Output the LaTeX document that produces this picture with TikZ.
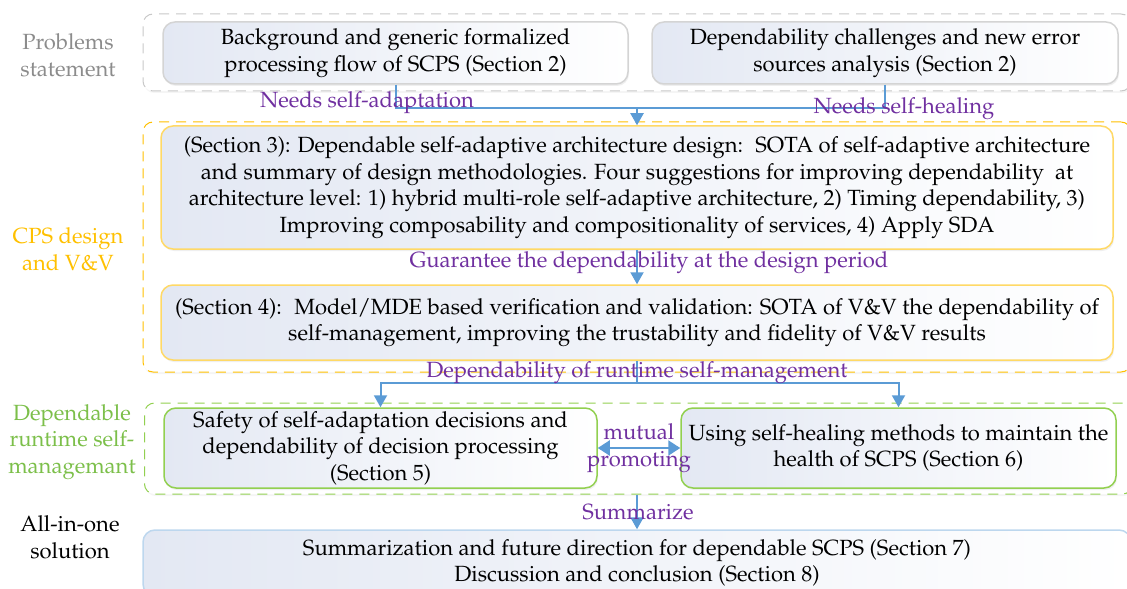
\documentclass[tikz,border=0pt]{standalone}
\usepackage[T1]{fontenc}
\usepackage{mathpazo}
\usetikzlibrary{arrows.meta,shadows}
\definecolor{arrowblue}{HTML}{5B9BD5}
\definecolor{labpurple}{HTML}{7030A0}
\definecolor{grporange}{HTML}{FFC000}
\definecolor{boxorange}{HTML}{FFD966}
\definecolor{grpgreen}{HTML}{92D050}
\definecolor{labgreen}{HTML}{7CBF4A}
\definecolor{boxgray}{HTML}{D4D4D4}
\definecolor{grpgray}{HTML}{C8C8C8}
\definecolor{labgray}{HTML}{8C8C8C}
\definecolor{boxblue}{HTML}{BDD7EE}
\definecolor{fillblue}{HTML}{E3E8F3}

\begin{document}
\begin{tikzpicture}[x=0.5pt,y=-0.5pt,font=\fontsize{11}{13.3}\selectfont,
  grp/.style={rounded corners=5pt,line width=0.5pt,dash pattern=on 5pt off 3.5pt,fill=white,
    drop shadow={opacity=0.08,shadow xshift=0.5pt,shadow yshift=-1pt},minimum width=494pt,inner sep=0pt},
  sbox/.style={rounded corners=6pt,line width=0.75pt,left color=fillblue,right color=white,align=center,
    drop shadow={opacity=0.12,shadow xshift=0.5pt,shadow yshift=-1pt},inner sep=0pt},
  side/.style={align=center},
  flow/.style={line width=1pt,arrowblue,-{Triangle[width=6.5pt,length=6pt]}},
  note/.style={text=labpurple,inner sep=0pt}]
\useasboundingbox (0,0) rectangle (1127,588);

% groups
\node[grp,draw=grpgray,minimum height=38.5pt] (gprob) at (637,52.5) {};
\node[grp,draw=grporange,minimum height=125pt] (gdes) at (637,247) {};
\node[grp,draw=grpgreen,minimum height=45.5pt] (grun) at (638.5,448.5) {};

% boxes
\node[sbox,draw=boxgray,minimum width=232.5pt,minimum height=31pt] (A) at (395.5,53)
  {Background and generic formalized\\processing flow of SCPS (Section 2)};
\node[sbox,draw=boxgray,minimum width=233pt,minimum height=31pt] (B) at (885,53)
  {Dependability challenges and new error\\sources analysis (Section 2)};
\node[sbox,draw=boxorange,minimum width=476pt,minimum height=61.5pt] (C) at (637,187.5)
  {(Section 3): Dependable self-adaptive architecture design:~ SOTA of self-adaptive architecture\\
   and summary of design methodologies. Four suggestions for improving dependability~ at\\
   architecture level: 1) hybrid multi-role self-adaptive architecture, 2) Timing dependability, 3)\\
   Improving composability and compositionality of services, 4) Apply SDA};
\node[sbox,draw=boxorange,minimum width=476pt,minimum height=37.5pt] (D) at (637,322.5)
  {(Section 4):~ Model/MDE based verification and validation: SOTA of V\&V the dependability of\\
   self-management, improving the trustability and fidelity of V\&V results};
\node[sbox,draw=grpgreen,minimum width=216.5pt,minimum height=40pt] (E) at (380.5,448)
  {Safety of self-adaptation decisions and\\dependability of decision processing\\(Section 5)};
\node[sbox,draw=grpgreen,minimum width=217.5pt,minimum height=40pt] (F) at (898.5,448)
  {Using self-healing methods to maintain the\\health of SCPS (Section 6)};
\node[sbox,draw=boxblue,minimum width=494pt,minimum height=33pt] (fin) at (637,563)
  {Summarization and future direction for dependable SCPS (Section 7)\\Discussion and conclusion (Section 8)};

% side labels
\node[side,text=labgray] (lprob) at (68,55) {Problems\\statement};
\node[side,text=grporange] (ldes) at (68,249) {CPS design\\and V\&V};
\node[side,text=labgreen] (lrun) at (72,442) {Dependable\\runtime self-\\managemant};
\node[side] (lfin) at (70,537) {All-in-one\\solution};

% connectors
\coordinate (j1) at (637,108);
\coordinate (j2) at (637,383);
\draw[flow,-] (A.south) |- (j1);
\draw[flow,-] (B.south) |- (j1);
\draw[flow] (j1) -- (C.north);
\draw[flow] (C.south) -- (D.north);
\draw[flow,-] (D.south) -- (j2);
\draw[flow] (j2) -| (E.north);
\draw[flow] (j2) -| (F.north);
\draw[flow,{Triangle[width=7.5pt,length=6pt]}-{Triangle[width=7.5pt,length=6pt]}] (E.east) -- (F.west);
\draw[flow] (grun.south -| D.south) -- (fin.north -| D.south);

% arrow labels
\node[note] (nadapt) at (367,103) {Needs self-adaptation};
\node[note] (nheal) at (904,109) {Needs self-healing};
\node[note] (nguar) at (649,263) {Guarantee the dependability at the design period};
\node[note] (nrun) at (637,373) {Dependability of runtime self-management};
\node[note,align=center] (nmut) at (639,448) {mutual\\promoting};
\node[note] (nsum) at (638,512) {Summarize};
\end{tikzpicture}
\end{document}
